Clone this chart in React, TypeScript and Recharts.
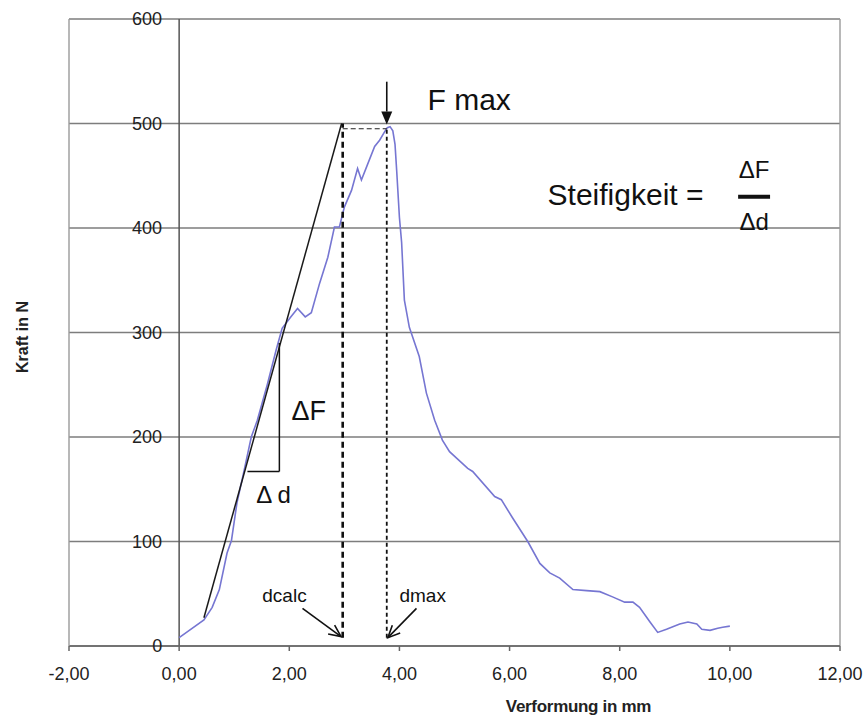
import {
  CartesianGrid,
  ComposedChart,
  Line,
  ReferenceDot,
  ReferenceLine,
  XAxis,
  YAxis,
} from 'recharts';

// axes
const X_TICKS = [-2, 0, 2, 4, 6, 8, 10, 12];
const Y_TICKS = [0, 100, 200, 300, 400, 500, 600];

const curveX = [
  0, 0.45, 0.6, 0.73, 0.87, 0.95, 1.05, 1.18, 1.31, 1.42, 1.6, 1.76, 1.87, 2.03, 2.15, 2.29, 2.4,
  2.55, 2.7, 2.82, 2.91, 3.0, 3.13, 3.24, 3.31, 3.4, 3.55, 3.64, 3.73, 3.78, 3.83, 3.88, 3.92, 3.95,
  4.0, 4.04, 4.09, 4.18, 4.36, 4.49, 4.64, 4.78, 4.91, 5.24, 5.33, 5.73, 5.85, 6.05, 6.33, 6.55, 6.73,
  6.91, 7.15, 7.4, 7.64, 7.87, 8.09, 8.24, 8.36, 8.55, 8.69, 8.85, 9.09, 9.24, 9.4, 9.49, 9.64,
  9.78, 9.87, 10.0,
];
const curveY = [
  8, 25, 37, 54, 89, 101, 137, 168, 200, 216, 250, 283, 304, 315, 323, 315, 319,
  347, 372, 401, 401, 420, 436, 457, 446, 458, 478, 484, 492, 496, 497, 493, 480, 455,
  410, 386, 331, 305, 277, 242, 216, 197, 186, 170, 167, 143, 140, 123, 100, 79, 70,
  65, 54, 53, 52, 47, 42, 42, 37, 23, 13, 16, 21, 23, 21, 16, 15,
  17, 18, 19,
];

// stiffness tangent
const tangentX = [0.45, 2.95];
const tangentY = [27, 500];

const D_CALC = 2.97;
const D_MAX = 3.77;
const F_MAX = 495;

const curve = curveX.map((x, i) => ({ x, y: curveY[i] }));
const tangent = tangentX.map((x, i) => ({ x, y: tangentY[i] }));

const W = 867;
const H = 720;
const PLOT_LEFT = 69;
const PLOT_RIGHT = 840;
const X_ZERO_PX = PLOT_LEFT + ((PLOT_RIGHT - PLOT_LEFT) * (0 - X_TICKS[0])) / (X_TICKS[X_TICKS.length - 1] - X_TICKS[0]);
const FONT = '"Liberation Sans", Arial, sans-serif';
const GRID = '#7d7d7d';
const BLUE = '#7676d2';

function YTick({ y, payload }: any) {
  return (
    <text x={X_ZERO_PX - 17} y={y} dy="0.35em" textAnchor="end" fontSize={18} fill="#222" fontFamily={FONT}>
      {payload.value}
    </text>
  );
}

function arrow(filled: boolean) {
  return (p: any) => {
    const { x1, y1, x2, y2 } = p;
    const a = Math.atan2(y2 - y1, x2 - x1);
    const len = filled ? 13 : 12;
    const half = 5.5;
    const bx = x2 - len * Math.cos(a);
    const by = y2 - len * Math.sin(a);
    const lx = bx + half * Math.sin(a);
    const ly = by - half * Math.cos(a);
    const rx = bx - half * Math.sin(a);
    const ry = by + half * Math.cos(a);
    return (
      <g>
        <line x1={x1} y1={y1} x2={filled ? bx : x2} y2={filled ? by : y2} stroke="#111" strokeWidth={1.6} />
        {filled ? (
          <polygon points={`${lx},${ly} ${x2},${y2} ${rx},${ry}`} fill="#111" />
        ) : (
          <polyline points={`${lx},${ly} ${x2},${y2} ${rx},${ry}`} fill="none" stroke="#111" strokeWidth={1.6} />
        )}
      </g>
    );
  };
}

function note(text: string, size: number, anchor: 'start' | 'middle' = 'start') {
  return (p: any) => (
    <text x={p.cx} y={p.cy} textAnchor={anchor} fontSize={size} fill="#111" fontFamily={FONT}>
      {text}
    </text>
  );
}

export default function App() {
  return (
    <div style={{ position: 'absolute', left: 0, top: 0, width: W, height: H, background: '#fff' }}>
      <ComposedChart width={W} height={H} margin={{ top: 19, right: W - PLOT_RIGHT, bottom: 0, left: 0 }}>
        <CartesianGrid vertical={false} stroke={GRID} strokeWidth={1.5} />
        <XAxis
          type="number"
          dataKey="x"
          domain={[-2, 12]}
          ticks={X_TICKS}
          height={74}
          tickFormatter={(v) => v.toFixed(2).replace('.', ',')}
          tick={{ fontSize: 18, fill: '#222', fontFamily: FONT }}
          tickSize={5}
          tickMargin={16}
          stroke="#666"
          strokeWidth={1.5}
          allowDataOverflow
          label={{
            content: (props: any) => {
              const vb = props.viewBox || { x: PLOT_LEFT, y: 646, width: PLOT_RIGHT - PLOT_LEFT, height: 74 };
              return (
                <text
                  x={vb.x + vb.width / 2 + 124}
                  y={vb.y + vb.height - 8}
                  textAnchor="middle"
                  fontSize={17}
                  fontWeight="bold"
                  fill="#222"
                  fontFamily={FONT}
                  letterSpacing={-0.3}
                >
                  Verformung in mm
                </text>
              );
            },
          }}
        />
        <YAxis
          type="number"
          dataKey="y"
          domain={[0, 600]}
          ticks={Y_TICKS}
          width={PLOT_LEFT}
          tick={<YTick />}
          tickLine={false}
          stroke="#9a9a9a"
          strokeWidth={1.4}
          label={{
            content: () => (
              <text
                x={22}
                y={337}
                transform="rotate(-90, 22, 337)"
                textAnchor="middle"
                dominantBaseline="central"
                fontSize={16}
                fontWeight="bold"
                fill="#222"
                fontFamily={FONT}
              >
                Kraft in N
              </text>
            ),
          }}
        />
        <ReferenceLine x={0} stroke="#555" strokeWidth={1.5} />
        <ReferenceLine x={12} stroke="#9a9a9a" strokeWidth={1.4} />

        <Line
          data={curve}
          dataKey="y"
          type="linear"
          stroke={BLUE}
          strokeWidth={1.6}
          dot={false}
          isAnimationActive={false}
        />
        <Line
          data={tangent}
          dataKey="y"
          type="linear"
          stroke="#1a1a1a"
          strokeWidth={1.5}
          dot={false}
          isAnimationActive={false}
        />

        {/* dcalc / dmax markers */}
        <ReferenceLine segment={[{ x: D_CALC, y: 8 }, { x: D_CALC, y: 500 }]} stroke="#111" strokeWidth={2.6} strokeDasharray="6 4" />
        <ReferenceLine segment={[{ x: D_MAX, y: 8 }, { x: D_MAX, y: F_MAX }]} stroke="#111" strokeWidth={1.8} strokeDasharray="4 3" />
        <ReferenceLine segment={[{ x: D_CALC, y: F_MAX }, { x: D_MAX, y: F_MAX }]} stroke="#222" strokeWidth={1.2} strokeDasharray="5 3" />

        {/* stiffness triangle */}
        <ReferenceLine segment={[{ x: 1.24, y: 167 }, { x: 1.82, y: 167 }]} stroke="#111" strokeWidth={1.5} />
        <ReferenceLine segment={[{ x: 1.82, y: 167 }, { x: 1.82, y: 290 }]} stroke="#111" strokeWidth={1.5} />

        {/* arrows */}
        <ReferenceLine segment={[{ x: D_MAX, y: 540 }, { x: D_MAX, y: 499 }]} shape={arrow(true)} />
        <ReferenceLine segment={[{ x: 2.24, y: 36 }, { x: D_CALC - 0.03, y: 9 }]} shape={arrow(false)} />
        <ReferenceLine segment={[{ x: 4.31, y: 36 }, { x: D_MAX + 0.02, y: 8 }]} shape={arrow(false)} />

        {/* fraction bar */}
        <ReferenceLine segment={[{ x: 10.15, y: 430 }, { x: 10.73, y: 430 }]} stroke="#111" strokeWidth={4} />

        {/* annotations */}
        <ReferenceDot x={4.51} y={513} r={0} shape={note('F max', 30)} />
        <ReferenceDot x={6.69} y={422} r={0} shape={note('Steifigkeit =', 30)} />
        <ReferenceDot x={10.44} y={448} r={0} shape={note('ΔF', 24, 'middle')} />
        <ReferenceDot x={10.44} y={398} r={0} shape={note('Δd', 24, 'middle')} />
        <ReferenceDot x={2.04} y={216} r={0} shape={note('ΔF', 27)} />
        <ReferenceDot x={1.4} y={137} r={0} shape={note('Δ d', 24)} />
        <ReferenceDot x={1.51} y={42} r={0} shape={note('dcalc', 19)} />
        <ReferenceDot x={4.0} y={42} r={0} shape={note('dmax', 19)} />
      </ComposedChart>
    </div>
  );
}
